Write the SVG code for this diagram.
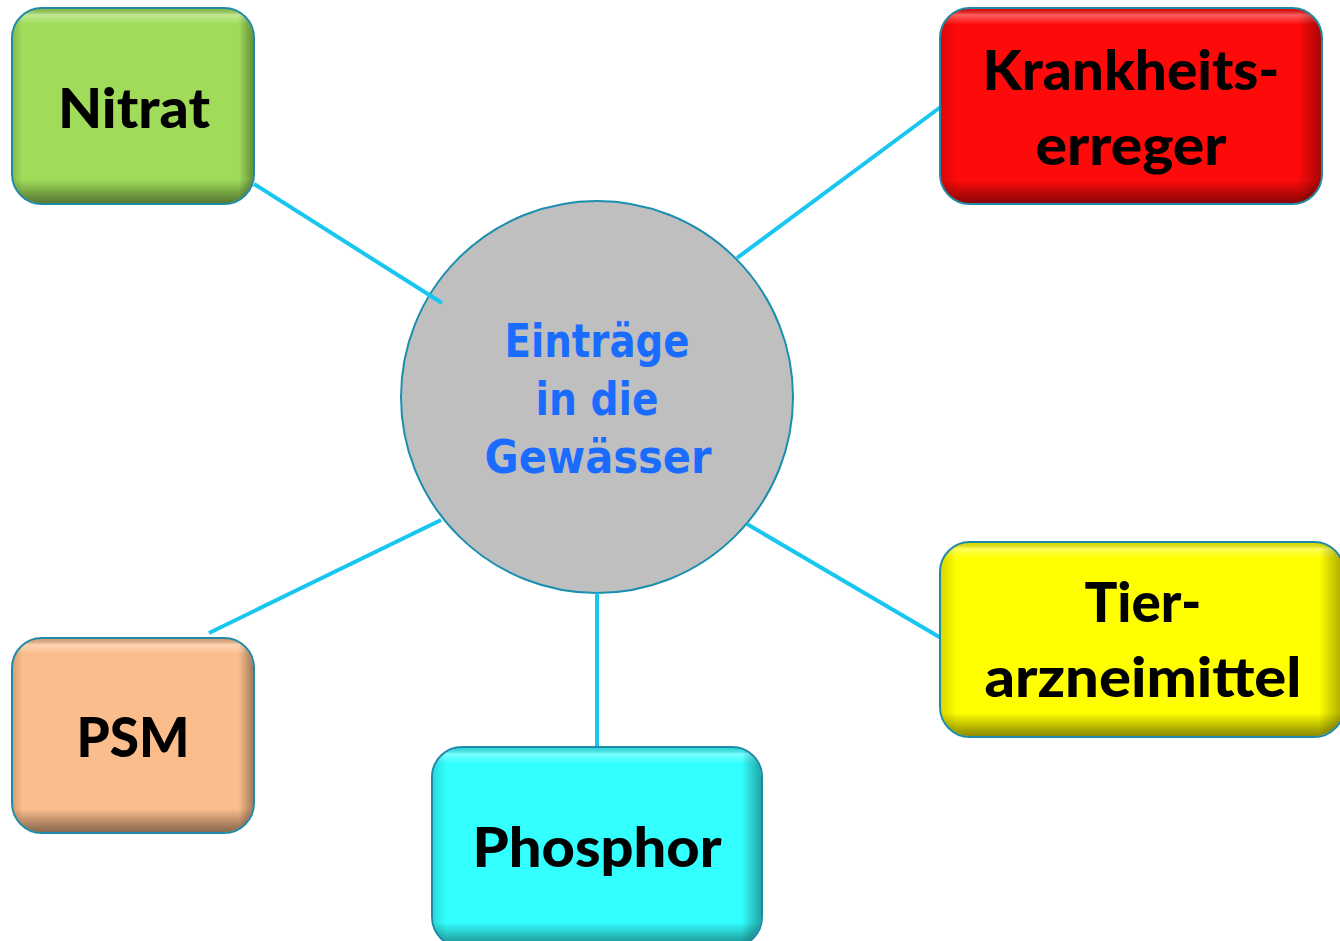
<svg xmlns="http://www.w3.org/2000/svg" width="1340" height="941" viewBox="0 0 1340 941">
  <style>
    .box { stroke: #1f8aa8; stroke-width: 2; }
    .lbl { font-family: Lato, "Open Sans", "Liberation Sans", sans-serif; font-weight: 900; font-size: 56px; fill: #000; text-anchor: middle; }
    .ctr { font-family: "DejaVu Sans", "Liberation Sans", sans-serif; font-weight: bold; font-size: 46px; fill: #1a6cff; text-anchor: middle; }
    .conn line { stroke: #18c6f0; stroke-width: 4; }
  </style>
  <defs>
    <linearGradient id="bevV" x1="0" y1="0" x2="0" y2="1">
      <stop offset="0" stop-color="#000" stop-opacity="0.15"/>
      <stop offset="0.03" stop-color="#fff" stop-opacity="0.35"/>
      <stop offset="0.08" stop-color="#fff" stop-opacity="0"/>
      <stop offset="0.88" stop-color="#000" stop-opacity="0"/>
      <stop offset="0.97" stop-color="#000" stop-opacity="0.35"/>
      <stop offset="1" stop-color="#000" stop-opacity="0.45"/>
    </linearGradient>
    <linearGradient id="bevH" x1="0" y1="0" x2="1" y2="0">
      <stop offset="0" stop-color="#000" stop-opacity="0.15"/>
      <stop offset="0.04" stop-color="#000" stop-opacity="0"/>
      <stop offset="0.94" stop-color="#000" stop-opacity="0"/>
      <stop offset="1" stop-color="#000" stop-opacity="0.35"/>
    </linearGradient>
  </defs>

  <g id="center">
    <circle cx="597" cy="397" r="196" fill="#bfbfbf" stroke="#1a8fb0" stroke-width="2"/>
    <text class="ctr" x="597" y="357" textLength="185" lengthAdjust="spacingAndGlyphs">Einträge</text>
    <text class="ctr" x="597" y="415" textLength="123" lengthAdjust="spacingAndGlyphs">in die</text>
    <text class="ctr" x="598" y="473" textLength="227" lengthAdjust="spacingAndGlyphs">Gewässer</text>
  </g>

  <g class="conn" id="connectors">
    <line x1="254" y1="184" x2="442" y2="303"/>
    <line x1="737" y1="258" x2="942" y2="106"/>
    <line x1="209" y1="633" x2="441" y2="520"/>
    <line x1="597" y1="593" x2="597" y2="747"/>
    <line x1="747" y1="524" x2="941" y2="638"/>
  </g>

  <g id="nitrat">
    <rect class="box" x="12" y="8" width="242" height="196" rx="30" fill="#a0dc5a"/>
    <rect x="13" y="9" width="240" height="194" rx="29" fill="url(#bevV)"/>
    <rect x="13" y="9" width="240" height="194" rx="29" fill="url(#bevH)"/>
    <text class="lbl" x="134" y="128" textLength="152" lengthAdjust="spacingAndGlyphs">Nitrat</text>
  </g>

  <g id="krankheitserreger">
    <rect class="box" x="940" y="8" width="382" height="196" rx="30" fill="#ff0a0a"/>
    <rect x="941" y="9" width="380" height="194" rx="29" fill="url(#bevV)"/>
    <rect x="941" y="9" width="380" height="194" rx="29" fill="url(#bevH)"/>
    <text class="lbl" x="1131" y="90" textLength="297" lengthAdjust="spacingAndGlyphs">Krankheits-</text>
    <text class="lbl" x="1131" y="165" textLength="191" lengthAdjust="spacingAndGlyphs">erreger</text>
  </g>

  <g id="tierarzneimittel">
    <rect class="box" x="940" y="542" width="404" height="195" rx="30" fill="#ffff00"/>
    <rect x="941" y="543" width="402" height="193" rx="29" fill="url(#bevV)"/>
    <rect x="941" y="543" width="402" height="193" rx="29" fill="url(#bevH)"/>
    <text class="lbl" x="1143" y="622" textLength="117" lengthAdjust="spacingAndGlyphs">Tier-</text>
    <text class="lbl" x="1143" y="697" textLength="317" lengthAdjust="spacingAndGlyphs">arzneimittel</text>
  </g>

  <g id="phosphor">
    <rect class="box" x="432" y="747" width="330" height="200" rx="30" fill="#33ffff"/>
    <rect x="433" y="748" width="328" height="198" rx="29" fill="url(#bevV)"/>
    <rect x="433" y="748" width="328" height="198" rx="29" fill="url(#bevH)"/>
    <text class="lbl" x="597" y="867" textLength="249" lengthAdjust="spacingAndGlyphs">Phosphor</text>
  </g>

  <g id="psm">
    <rect class="box" x="12" y="638" width="242" height="195" rx="30" fill="#fbbd8c"/>
    <rect x="13" y="639" width="240" height="193" rx="29" fill="url(#bevV)"/>
    <rect x="13" y="639" width="240" height="193" rx="29" fill="url(#bevH)"/>
    <text class="lbl" x="133" y="757" textLength="113" lengthAdjust="spacingAndGlyphs">PSM</text>
  </g>
</svg>
